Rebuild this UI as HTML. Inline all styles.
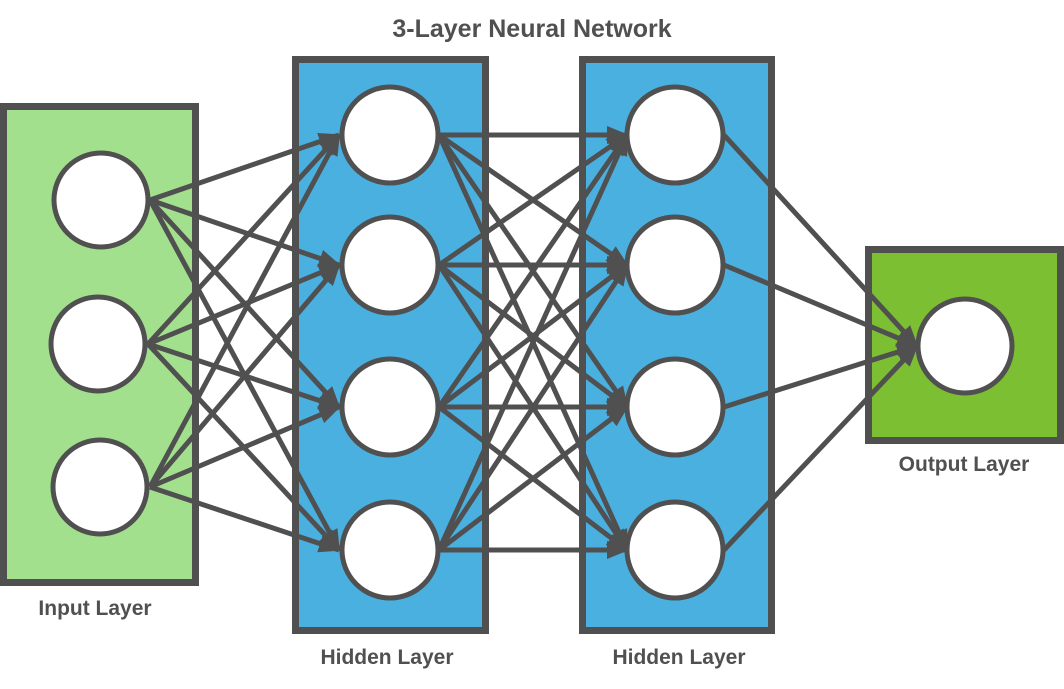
<!DOCTYPE html>
<html><head><meta charset="utf-8"><style>
html,body{margin:0;padding:0;background:#fff;}
svg{display:block;}
text{font-family:"Liberation Sans",sans-serif;font-weight:bold;fill:#505050;}
</style></head><body>
<svg width="1064" height="689" viewBox="0 0 1064 689" xmlns="http://www.w3.org/2000/svg">
<defs>
<marker id="a" markerUnits="userSpaceOnUse" markerWidth="22" markerHeight="20" refX="20" refY="10" orient="auto">
<path d="M0,1 L22,10 L0,19 Z" fill="#505050"/>
</marker>
</defs>
<rect x="3.5" y="106.5" width="192" height="476" fill="#a3e08d" stroke="#505050" stroke-width="7"/>
<rect x="295.5" y="59.5" width="190" height="571" fill="#49b0e0" stroke="#505050" stroke-width="7"/>
<rect x="582.5" y="59.5" width="189" height="571" fill="#49b0e0" stroke="#505050" stroke-width="7"/>
<rect x="868.5" y="249.5" width="192" height="191" fill="#7dbf32" stroke="#505050" stroke-width="7"/>
<g stroke="#505050" stroke-width="5" marker-end="url(#a)" fill="none">
<!-- input -> h1 -->
<line x1="150" y1="200" x2="339" y2="135"/><line x1="150" y1="200" x2="339" y2="265"/><line x1="150" y1="200" x2="339" y2="407"/><line x1="150" y1="200" x2="339" y2="550"/>
<line x1="148" y1="344" x2="339" y2="135"/><line x1="148" y1="344" x2="339" y2="265"/><line x1="148" y1="344" x2="339" y2="407"/><line x1="148" y1="344" x2="339" y2="550"/>
<line x1="150" y1="487" x2="339" y2="135"/><line x1="150" y1="487" x2="339" y2="265"/><line x1="150" y1="487" x2="339" y2="407"/><line x1="150" y1="487" x2="339" y2="550"/>
<!-- h1 -> h2 -->
<line x1="439" y1="135" x2="627" y2="135"/><line x1="439" y1="135" x2="627" y2="265"/><line x1="439" y1="135" x2="627" y2="407"/><line x1="439" y1="135" x2="627" y2="550"/>
<line x1="439" y1="265" x2="627" y2="135"/><line x1="439" y1="265" x2="627" y2="265"/><line x1="439" y1="265" x2="627" y2="407"/><line x1="439" y1="265" x2="627" y2="550"/>
<line x1="439" y1="407" x2="627" y2="135"/><line x1="439" y1="407" x2="627" y2="265"/><line x1="439" y1="407" x2="627" y2="407"/><line x1="439" y1="407" x2="627" y2="550"/>
<line x1="439" y1="550" x2="627" y2="135"/><line x1="439" y1="550" x2="627" y2="265"/><line x1="439" y1="550" x2="627" y2="407"/><line x1="439" y1="550" x2="627" y2="550"/>
<!-- h2 -> out -->
<line x1="724" y1="135" x2="917" y2="346"/><line x1="724" y1="265" x2="917" y2="346"/><line x1="724" y1="407" x2="917" y2="346"/><line x1="724" y1="550" x2="917" y2="346"/>
</g>
<g fill="#fff" stroke="#505050" stroke-width="5">
<circle cx="101" cy="200" r="47"/><circle cx="98" cy="344" r="47"/><circle cx="100" cy="487" r="47"/>
<circle cx="390" cy="135" r="48"/><circle cx="390" cy="265" r="48"/><circle cx="390" cy="407" r="48"/><circle cx="390" cy="550" r="48"/>
<circle cx="675" cy="135" r="48"/><circle cx="675" cy="265" r="48"/><circle cx="675" cy="407" r="48"/><circle cx="675" cy="550" r="48"/>
<circle cx="965" cy="346" r="47"/>
</g>
<text x="532" y="37" font-size="25" text-anchor="middle">3-Layer Neural Network</text>
<text x="95" y="615" font-size="21" text-anchor="middle">Input Layer</text>
<text x="387" y="664" font-size="21" text-anchor="middle">Hidden Layer</text>
<text x="679" y="664" font-size="21" text-anchor="middle">Hidden Layer</text>
<text x="964" y="471" font-size="21" text-anchor="middle">Output Layer</text>
</svg>
</body></html>
